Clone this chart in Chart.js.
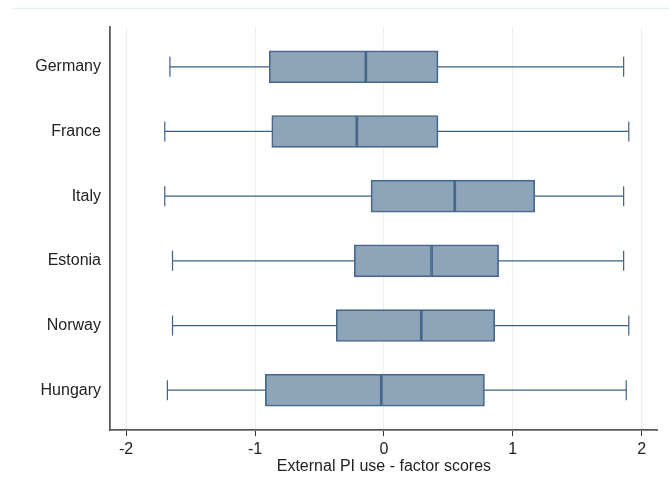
<!DOCTYPE html>
<html lang="en">
<head>
  <meta charset="UTF-8" />
  <title>External PI use – factor scores by country</title>
  <script src="https://cdn.jsdelivr.net/npm/chart.js"></script>
  <style>
    html,body{margin:0;padding:0;background:#fff;}
    #wrap{width:669px;height:488px;position:relative;}
  </style>
</head>
<body>
  <div id="wrap"><canvas id="box"></canvas></div>

<script>
  // Data (factor scores)
  const countries=['Germany','France','Italy','Estonia','Norway','Hungary'];
  const whiskerLow=[-1.66,-1.70,-1.70,-1.64,-1.64,-1.68];
  const q1=[-0.89,-0.87,-0.10,-0.23,-0.37,-0.92];
  const median=[-0.14,-0.21,0.55,0.37,0.29,-0.02];
  const q3=[0.42,0.42,1.17,0.89,0.86,0.78];
  const whiskerHigh=[1.86,1.90,1.86,1.86,1.90,1.88];
  const xTicks=[-2,-1,0,1,2];

  const fill='#8ea4b9', edge='#46688c', line='#3f6087';

  // whiskers: one segment per country, split by gaps
  const whiskers=[];
  countries.forEach((c,i)=>{whiskers.push({x:whiskerLow[i],y:i+1},{x:whiskerHigh[i],y:i+1},{x:null,y:null});});
  const caps=[];
  countries.forEach((c,i)=>{caps.push({x:whiskerLow[i],y:i+1},{x:whiskerHigh[i],y:i+1});});

  // faint outer frame line like Stata's graph region
  const frame={id:'frame',beforeDraw(chart){const c=chart.ctx;c.save();c.strokeStyle='#e6eff1';c.lineWidth=1.5;c.beginPath();c.moveTo(12,8.5);c.lineTo(669,8.5);c.stroke();c.restore();}};

  Chart.defaults.font.family="'Liberation Sans', Arial, sans-serif";
  Chart.defaults.font.size=16;
  Chart.defaults.color='#222';

  new Chart(document.getElementById('box'),{
    type:'bar',
    data:{datasets:[
      {type:'bar',data:countries.map((c,i)=>({x:[q1[i],median[i]],y:i+1})),backgroundColor:fill,borderColor:edge,borderWidth:1.7,borderSkipped:false,barThickness:32,grouped:false,order:0},
      {type:'bar',data:countries.map((c,i)=>({x:[median[i],q3[i]],y:i+1})),backgroundColor:fill,borderColor:edge,borderWidth:1.7,borderSkipped:false,barThickness:32,grouped:false,order:0},
      {type:'line',data:whiskers,borderColor:line,borderWidth:1.2,pointRadius:0,spanGaps:false,order:3},
      {type:'scatter',data:caps,pointStyle:'line',rotation:90,radius:10,pointRadius:10,borderColor:line,pointBorderWidth:1.2,borderWidth:1.2,order:2}
    ]},
    options:{
      indexAxis:'y',responsive:true,maintainAspectRatio:false,animation:false,
      layout:{padding:{top:27,right:7,left:0,bottom:12}},
      plugins:{legend:{display:false},tooltip:{enabled:false}},
      scales:{
        x:{type:'linear',min:-2.125,max:2.125,
          afterBuildTicks(s){s.ticks=xTicks.map(v=>({value:v}));},
          afterFit(s){s.height=46;s.paddingRight=0;s.paddingLeft=0;},
          ticks:{padding:4,color:'#222'},
          grid:{color:'#e8f0f3',lineWidth:1,tickColor:'#333',tickLength:6,drawOnChartArea:true},
          border:{display:true,color:'#5a5a5a',width:1.8},
          title:{display:true,text:'External PI use - factor scores',color:'#222',padding:{top:0,bottom:0}}
        },
        y:{type:'linear',reverse:true,offset:false,min:0.385,max:6.615,
          afterBuildTicks(s){s.ticks=countries.map((c,i)=>({value:i+1}));},
          afterFit(s){s.width=110;},
          ticks:{callback:v=>countries[v-1],padding:1,color:'#222'},
          grid:{display:false},
          border:{display:true,color:'#5a5a5a',width:1.8}
        }
      }
    },
    plugins:[frame]
  });
</script>
</body>
</html>
